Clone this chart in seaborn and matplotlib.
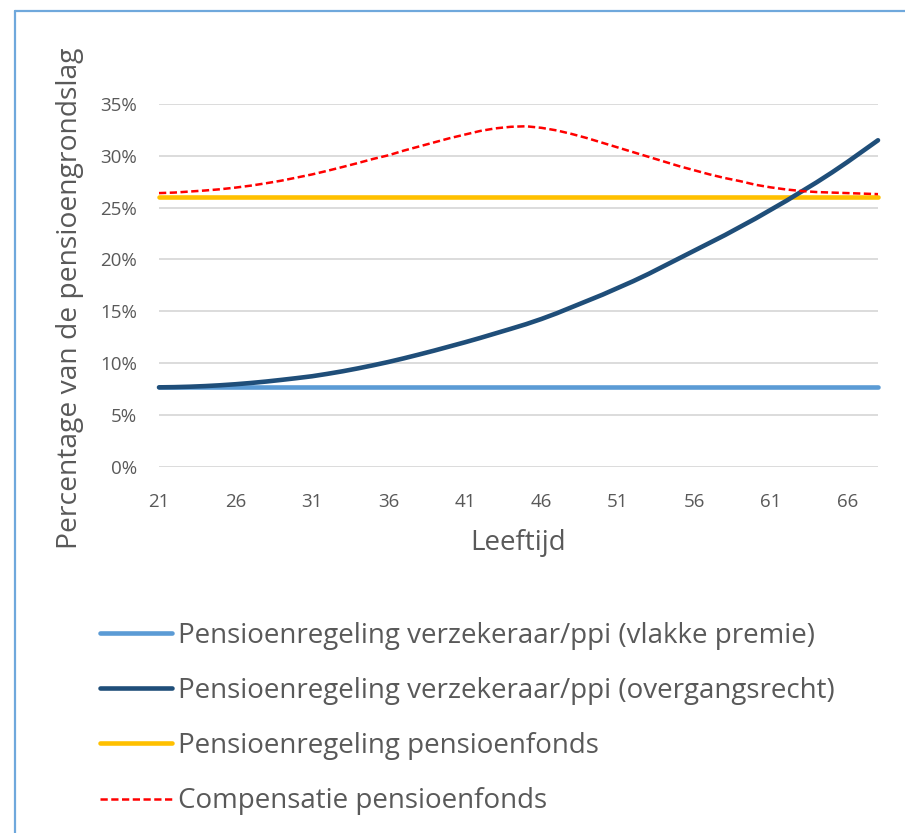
import numpy as np
import pandas as pd
import matplotlib
matplotlib.use("Agg")
import matplotlib.pyplot as plt
from matplotlib.lines import Line2D
from matplotlib.ticker import FuncFormatter
import seaborn as sns

# ---------------- data ----------------
ages = list(range(21, 69))

vlakke_premie = [7.65] * len(ages)

overgangsrecht = [
    7.65, 7.67, 7.71, 7.77, 7.85, 7.95, 8.07, 8.21, 8.37, 8.54,   # 21-30
    8.72, 8.95, 9.20, 9.48, 9.78, 10.10, 10.45, 10.82, 11.20, 11.60,  # 31-40
    12.00, 12.42, 12.86, 13.30, 13.75, 14.25, 14.80, 15.40, 16.00, 16.60,  # 41-50
    17.25, 17.90, 18.60, 19.35, 20.10, 20.85, 21.60, 22.35, 23.15, 23.95,  # 51-60
    24.80, 25.65, 26.55, 27.45, 28.40, 29.40, 30.45, 31.50,  # 61-68
]

pensioenfonds = [26.0] * len(ages)

compensatie = [
    26.40, 26.45, 26.55, 26.65, 26.77, 26.93, 27.12, 27.35, 27.60, 27.90,  # 21-30
    28.20, 28.55, 28.92, 29.30, 29.70, 30.05, 30.50, 30.90, 31.30, 31.70,  # 31-40
    32.05, 32.40, 32.65, 32.80, 32.85, 32.70, 32.45, 32.10, 31.70, 31.25,  # 41-50
    30.80, 30.35, 29.90, 29.45, 29.00, 28.60, 28.20, 27.85, 27.55, 27.20,  # 51-60
    26.95, 26.75, 26.60, 26.50, 26.45, 26.40, 26.35, 26.30,  # 61-68
]

series_names = [
    "Pensioenregeling verzekeraar/ppi (vlakke premie)",
    "Pensioenregeling verzekeraar/ppi (overgangsrecht)",
    "Pensioenregeling pensioenfonds",
    "Compensatie pensioenfonds",
]
series_values = [vlakke_premie, overgangsrecht, pensioenfonds, compensatie]
series_colors = ["#5B9BD5", "#1F4E79", "#FFC000", "#FF0000"]

x_ticks = list(range(21, 67, 5))
y_ticks = [0, 5, 10, 15, 20, 25, 30, 35]
x_label = "Leeftijd"
y_label = "Percentage van de pensioengrondslag"

# ---------------- style ----------------
sns.set_theme(style="white")
plt.rcParams["font.family"] = ["Open Sans", "DejaVu Sans"]

TEXT = "#595959"
GRID = "#D9D9D9"

fig = plt.figure(figsize=(9.05, 8.33), dpi=100)
ax = fig.add_axes([159 / 905, 1 - 466.6 / 833, (878 - 159) / 905, (466.6 - 104) / 833])

frames = []
for name, vals in zip(series_names, series_values):
    frames.append(pd.DataFrame({"Leeftijd": ages, "Waarde": vals, "Reeks": name}))
df = pd.concat(frames, ignore_index=True)

solid_lw = 3.3
for i, (name, col) in enumerate(zip(series_names, series_colors)):
    sub = df[df["Reeks"] == name]
    if i == 3:
        sns.lineplot(data=sub, x="Leeftijd", y="Waarde", ax=ax, color=col,
                     linewidth=1.8, linestyle=(0, (2.9, 1.4)), label=name,
                     zorder=5)
    else:
        sns.lineplot(data=sub, x="Leeftijd", y="Waarde", ax=ax, color=col,
                     linewidth=solid_lw, label=name, zorder=3 + (1 if i == 1 else 0))
for ln in ax.get_lines():
    ln.set_solid_capstyle("round")
    ln.set_clip_on(False)

ax.set_xlim(21, 68)
ax.set_ylim(0, 35)
ax.set_xticks(x_ticks)
ax.set_yticks(y_ticks)
ax.yaxis.set_major_formatter(FuncFormatter(lambda v, p: f"{int(round(v))}%"))
ax.grid(axis="y", color=GRID, linewidth=1.3)
ax.grid(axis="x", visible=False)
ax.set_axisbelow(True)
for s in ax.spines.values():
    s.set_visible(False)
ax.tick_params(axis="both", length=0, labelsize=13.5, labelcolor=TEXT)
ax.tick_params(axis="y", pad=16)
ax.tick_params(axis="x", pad=19)

ax.set_xlabel(x_label, fontsize=20, color=TEXT)
ax.xaxis.set_label_coords((518 - 159) / 719, (466.6 - 543) / 362.6)
ax.xaxis.label.set_va("center")
ax.set_ylabel(y_label, fontsize=20.3, color=TEXT)
ax.yaxis.set_label_coords((70 - 159) / 719, (466.6 - 298) / 362.6)
ax.yaxis.label.set_va("center")

# legend below chart
handles, labels = ax.get_legend_handles_labels()
ax.get_legend().remove()
leg = fig.legend(handles, labels, loc="upper left",
                 bbox_to_anchor=(100 / 905, 1 - 622 / 833),
                 frameon=False, borderpad=0, borderaxespad=0,
                 handlelength=2.6, handletextpad=0.22, labelspacing=0.975,
                 fontsize=20)
for t in leg.get_texts():
    t.set_color(TEXT)
for h in leg.get_lines():
    h.set_solid_capstyle("round")

# chart frame (top and left edges visible)
fig.add_artist(Line2D([15 / 905, 1.0], [1 - 11 / 833, 1 - 11 / 833],
                      transform=fig.transFigure, color="#6FA8DC", linewidth=1.6))
fig.add_artist(Line2D([15 / 905, 15 / 905], [1 - 11 / 833, 0.0],
                      transform=fig.transFigure, color="#6FA8DC", linewidth=1.6))

fig.savefig("out.png", dpi=100)
